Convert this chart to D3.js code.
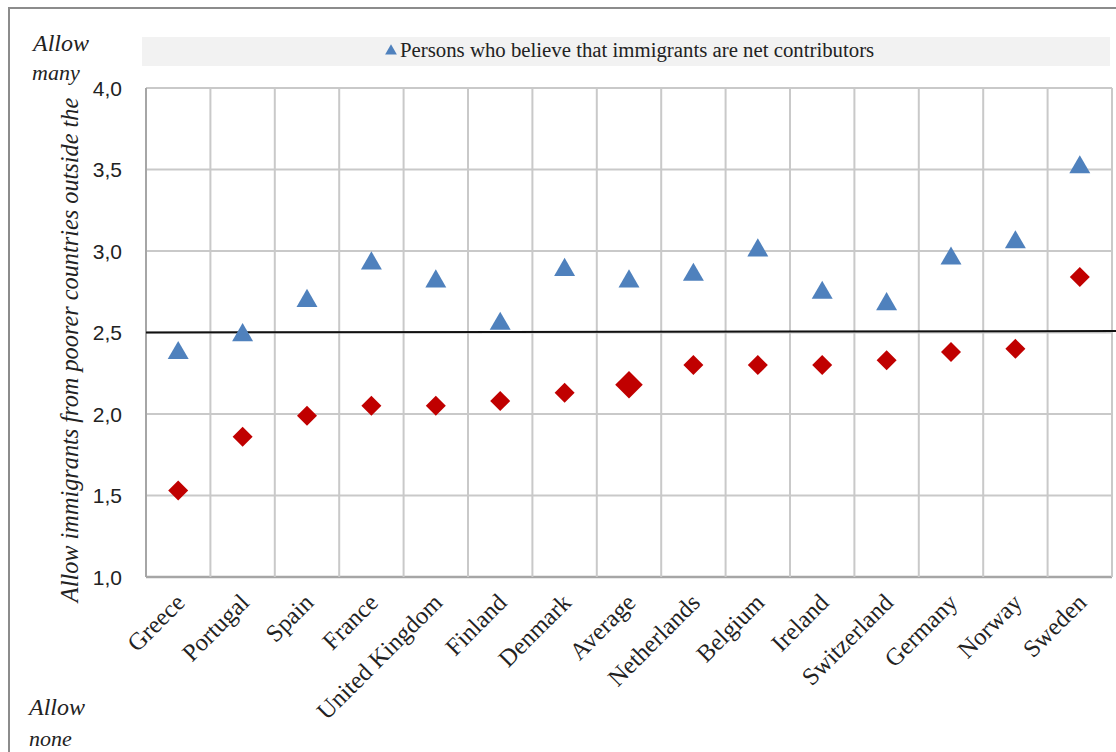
<!DOCTYPE html>
<html>
<head>
<meta charset="utf-8">
<script src="https://cdn.jsdelivr.net/npm/d3@7"></script>
<style>
  html, body { margin: 0; padding: 0; background: #fff; }
  svg { display: block; }
</style>
</head>
<body>
<svg id="chart" width="1116" height="752"></svg>
<script>
// Countries ordered by attitude towards immigrants from poorer countries
const countries = ["Greece", "Portugal", "Spain", "France", "United Kingdom", "Finland",
  "Denmark", "Average", "Netherlands", "Belgium", "Ireland", "Switzerland",
  "Germany", "Norway", "Sweden"];

// Persons who believe that immigrants are net contributors
const contributors = [2.38, 2.49, 2.70, 2.93, 2.82, 2.56, 2.89, 2.82, 2.86, 3.01, 2.75, 2.68, 2.96, 3.06, 3.52];

// All respondents
const allPersons = [1.53, 1.86, 1.99, 2.05, 2.05, 2.08, 2.13, 2.18, 2.30, 2.30, 2.30, 2.33, 2.38, 2.40, 2.84];

const yTicks = [1.0, 1.5, 2.0, 2.5, 3.0, 3.5, 4.0];
const referenceLevel = 2.5;

const svg = d3.select("#chart");
const W = 1116, H = 752;
const plot = { left: 146, right: 1112, top: 88, bottom: 577 };

const serif = "'Liberation Serif', 'Times New Roman', serif";
const sans = "'Liberation Sans', Arial, sans-serif";

// Outer frame
svg.append("rect")
  .attr("x", 9).attr("y", 8).attr("width", W + 20).attr("height", H + 20)
  .attr("fill", "none").attr("stroke", "#8c8c8c").attr("stroke-width", 2);

const x = d3.scaleBand().domain(countries).range([plot.left, plot.right]);
const y = d3.scaleLinear().domain([1, 4]).range([plot.bottom, plot.top]);

// Legend band
svg.append("rect")
  .attr("x", 142).attr("y", 37).attr("width", 968).attr("height", 29)
  .attr("fill", "#f2f2f2");
svg.append("path")
  .attr("d", d3.symbol().type(d3.symbolTriangle).size(60)())
  .attr("transform", "translate(391,51)")
  .attr("fill", "#4f81bd");
svg.append("text")
  .attr("x", 400).attr("y", 57)
  .attr("font-family", serif).attr("font-size", 20.8)
  .attr("fill", "#222")
  .text("Persons who believe that immigrants are net contributors");

// Horizontal gridlines
svg.append("g")
  .selectAll("line").data(yTicks).join("line")
  .attr("x1", plot.left).attr("x2", plot.right)
  .attr("y1", d => y(d)).attr("y2", d => y(d))
  .attr("stroke", d => d === 1 ? "#a6a6a6" : "#c9c9c9")
  .attr("stroke-width", d => d === 1 ? 2.5 : 2);

// Vertical gridlines at category boundaries
const bounds = countries.map(c => x(c)).concat([plot.right]);
svg.append("g")
  .selectAll("line").data(bounds).join("line")
  .attr("x1", d => d).attr("x2", d => d)
  .attr("y1", plot.top).attr("y2", plot.bottom)
  .attr("stroke", (d, i) => i === 0 ? "#a6a6a6" : "#c9c9c9")
  .attr("stroke-width", 2);

// Y axis tick labels
const yAxis = d3.axisLeft(y).tickValues(yTicks).tickSize(0).tickPadding(0)
  .tickFormat(d => d3.format(".1f")(d).replace(".", ","));
const gy = svg.append("g").attr("transform", `translate(${plot.left - 24},0)`).call(yAxis);
gy.select(".domain").remove();
gy.selectAll("text")
  .attr("font-family", sans).attr("font-size", 21).attr("fill", "#222")
  .attr("dy", "0.35em");

// X axis category labels, rotated
const xAxis = d3.axisBottom(x).tickSize(0).tickPadding(0);
const gx = svg.append("g").attr("transform", `translate(0,${plot.bottom})`).call(xAxis);
gx.select(".domain").remove();
gx.selectAll("text")
  .attr("font-family", serif).attr("font-size", 24.5).attr("fill", "#222")
  .attr("text-anchor", "end")
  .attr("dy", 0)
  .attr("transform", "translate(8,27) rotate(-45)");

// Reference line at the scale midpoint
svg.append("line")
  .attr("x1", plot.left).attr("x2", W)
  .attr("y1", y(referenceLevel)).attr("y2", y(referenceLevel) - 1.5)
  .attr("stroke", "#111").attr("stroke-width", 2);

// Red diamonds: all respondents (average marker drawn larger)
svg.append("g")
  .selectAll("path").data(countries).join("path")
  .attr("d", (c, i) => d3.symbol().type(d3.symbolSquare).size(c === "Average" ? 380 : 200)())
  .attr("transform", (c, i) => `translate(${x(c) + x.bandwidth() / 2},${y(allPersons[i])}) rotate(45)`)
  .attr("fill", "#c00000");

// Blue triangles: net contributors
svg.append("g")
  .selectAll("path").data(countries).join("path")
  .attr("d", d3.symbol().type(d3.symbolTriangle).size(190)())
  .attr("transform", (c, i) => `translate(${x(c) + x.bandwidth() / 2},${y(contributors[i]) + 1})`)
  .attr("fill", "#4f81bd");

// Axis annotations
const ital = (t, xx, yy, size) => svg.append("text")
  .attr("x", xx).attr("y", yy)
  .attr("font-family", serif).attr("font-style", "italic")
  .attr("font-size", size).attr("fill", "#222").text(t);
ital("Allow", 33, 51, 24);
ital("many", 32, 80, 22);
ital("Allow", 29, 715, 24);
ital("none", 29, 746, 22);

svg.append("text")
  .attr("transform", "translate(78,350) rotate(-90)")
  .attr("text-anchor", "middle")
  .attr("font-family", serif).attr("font-style", "italic")
  .attr("font-size", 24.3).attr("fill", "#222")
  .text("Allow immigrants from poorer countries outside the");
</script>
</body>
</html>
